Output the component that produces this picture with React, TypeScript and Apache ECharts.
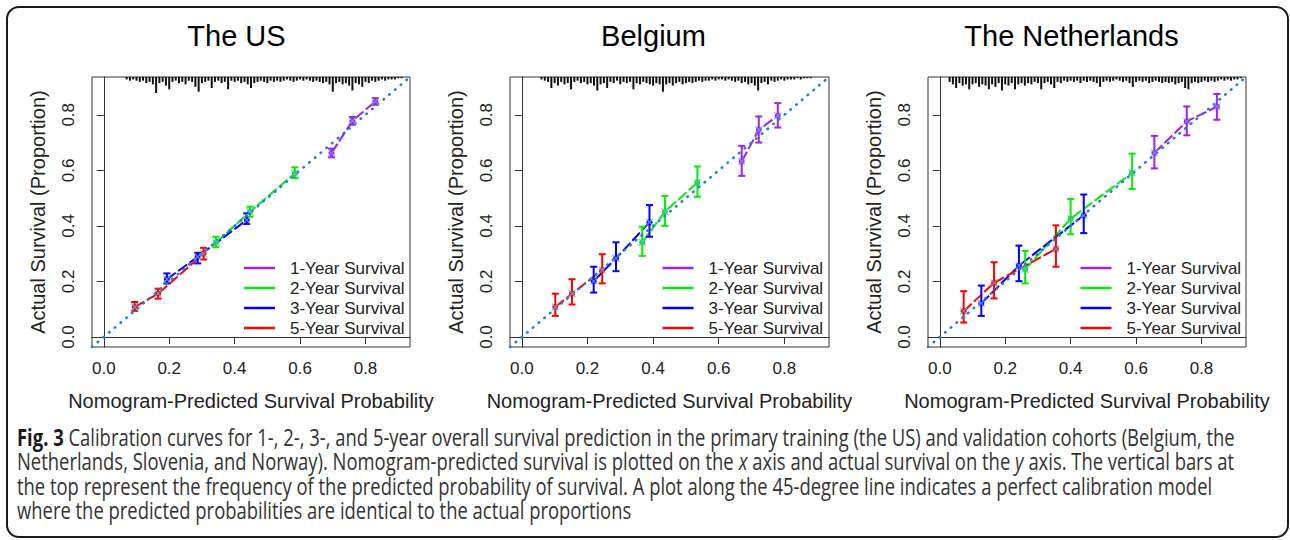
import React, { useEffect, useRef } from "react";
import * as echarts from "echarts";

const panelTitles = ["The US", "Belgium", "The Netherlands"];
const seriesNames = ["1-Year Survival", "2-Year Survival", "3-Year Survival", "5-Year Survival"];
const seriesColors = ["#A020F0", "#00EE00", "#0000FF", "#FF0000"];
const tickValues = [0, 0.2, 0.4, 0.6, 0.8];
const xAxisTitle = "Nomogram-Predicted Survival Probability";
const yAxisTitle = "Actual Survival (Proportion)";

// The US: [1y, 2y, 3y, 5y]
const usPred = [[0.696, 0.76, 0.83], [0.343, 0.447, 0.584], [0.193, 0.287, 0.437], [0.0945, 0.166, 0.305]];
const usObs = [[0.662, 0.778, 0.848], [0.34, 0.451, 0.589], [0.208, 0.289, 0.421], [0.108, 0.156, 0.3]];
const usLo = [[0.647, 0.764, 0.836], [0.323, 0.433, 0.572], [0.193, 0.265, 0.407], [0.094, 0.138, 0.279]];
const usHi = [[0.678, 0.792, 0.86], [0.361, 0.469, 0.611], [0.229, 0.303, 0.445], [0.126, 0.174, 0.321]];

// Belgium
const bePred = [[0.67, 0.722, 0.78], [0.367, 0.436, 0.535], [0.219, 0.287, 0.389], [0.102, 0.153, 0.245]];
const beObs = [[0.632, 0.746, 0.797], [0.341, 0.451, 0.556], [0.201, 0.283, 0.413], [0.108, 0.156, 0.241]];
const beLo = [[0.58, 0.7, 0.754], [0.292, 0.4, 0.505], [0.16, 0.237, 0.361], [0.076, 0.117, 0.193]];
const beHi = [[0.688, 0.794, 0.842], [0.397, 0.508, 0.614], [0.253, 0.341, 0.475], [0.156, 0.208, 0.298]];

// The Netherlands
const nlPred = [[0.656, 0.755, 0.847], [0.261, 0.4, 0.588], [0.127, 0.242, 0.44], [0.073, 0.166, 0.355]];
const nlObs = [[0.663, 0.776, 0.829], [0.244, 0.426, 0.591], [0.121, 0.257, 0.438], [0.093, 0.195, 0.317]];
const nlLo = [[0.607, 0.726, 0.782], [0.193, 0.37, 0.533], [0.076, 0.201, 0.374], [0.052, 0.139, 0.253]];
const nlHi = [[0.724, 0.83, 0.875], [0.31, 0.497, 0.66], [0.185, 0.329, 0.513], [0.165, 0.269, 0.402]];

// Spike histogram (frequency of predicted probability), bins of 0.01
const usRugStart = 0.07;
const usRug = [2, 3, 2, 3, 4, 3, 5, 4, 6, 13, 5, 4, 7, 10, 4, 3, 5, 4, 6, 3, 4, 8, 12, 5, 4, 3, 9, 4, 3, 5, 4, 10, 3, 4, 3, 5, 4, 6, 9, 5, 4, 3, 4, 5, 3, 4, 3, 4, 3, 2, 3, 4, 3, 2, 3, 2, 3, 4, 3, 4, 5, 4, 6, 12, 5, 4, 6, 5, 7, 11, 5, 6, 8, 4, 5, 3, 4, 3, 2, 3, 2, 2, 2, 1, 1];
const beRugStart = 0.06;
const beRug = [2, 3, 4, 9, 5, 7, 4, 6, 5, 10, 4, 3, 5, 4, 6, 5, 7, 11, 6, 5, 9, 4, 5, 3, 6, 4, 5, 4, 10, 5, 6, 4, 5, 6, 7, 5, 6, 12, 6, 5, 7, 5, 4, 6, 5, 4, 5, 4, 3, 4, 3, 3, 2, 3, 2, 2, 3, 2, 3, 4, 3, 5, 4, 6, 5, 7, 11, 5, 4, 6, 3, 4, 3, 2, 3, 2, 2, 2, 1, 2, 1, 1, 1];
const nlRugStart = 0.03;
const nlRug = [4, 6, 9, 5, 7, 6, 10, 6, 5, 8, 6, 7, 10, 6, 8, 5, 11, 6, 7, 5, 10, 6, 5, 7, 5, 6, 4, 5, 10, 5, 4, 6, 9, 4, 5, 3, 4, 3, 4, 3, 5, 3, 4, 3, 4, 5, 8, 4, 3, 4, 3, 2, 3, 4, 3, 5, 8, 4, 3, 4, 3, 5, 4, 3, 4, 5, 4, 5, 4, 6, 5, 4, 9, 10, 5, 4, 5, 4, 3, 4, 3, 4, 3, 2, 3, 2, 3, 2, 2, 1];
const rugBin = 0.01;

const captionLines = [
  "Calibration curves for 1-, 2-, 3-, and 5-year overall survival prediction in the primary training (the US) and validation cohorts (Belgium, the",
  "Netherlands, Slovenia, and Norway). Nomogram-predicted survival is plotted on the {i|x} axis and actual survival on the {i|y} axis. The vertical bars at",
  "the top represent the frequency of the predicted probability of survival. A plot along the 45-degree line indicates a perfect calibration model",
  "where the predicted probabilities are identical to the actual proportions",
];
const captionLabel = "Fig. 3";

const panels = [
  { pred: usPred, obs: usObs, lo: usLo, hi: usHi, rug: usRug, rugStart: usRugStart },
  { pred: bePred, obs: beObs, lo: beLo, hi: beHi, rug: beRug, rugStart: beRugStart },
  { pred: nlPred, obs: nlObs, lo: nlLo, hi: nlHi, rug: nlRug, rugStart: nlRugStart },
];

// layout
const AX_MIN = -0.036;
const AX_MAX = 0.936;
const gridLefts = [92, 510, 928];
const gridWidths = [318, 319, 318];
const GRID_TOP = 77;
const GRID_H = 270;
const titleCenters = [236.5, 653.5, 1071.5];
const legendLefts = [244, 662.5, 1080.5];
const FONT = "'Liberation Sans', Arial, Helvetica, sans-serif";
const CAP_FONT = "'Open Sans', 'Noto Sans', sans-serif";

function measure(text: string, font: string): number {
  const ctx = document.createElement("canvas").getContext("2d");
  if (!ctx) return text.length * 10;
  ctx.font = font;
  return ctx.measureText(text).width;
}

function buildOption() {
  const grid: any[] = [];
  const xAxis: any[] = [];
  const yAxis: any[] = [];
  const series: any[] = [];
  const legend: any[] = [];
  const graphic: any[] = [];

  panels.forEach((p, pi) => {
    grid.push({
      left: gridLefts[pi], top: GRID_TOP, width: gridWidths[pi], height: GRID_H,
      show: true, borderColor: "#333", borderWidth: 1, backgroundColor: "transparent",
    });
    xAxis.push({
      gridIndex: pi, type: "value", min: AX_MIN, max: AX_MAX,
      axisLine: { show: true, lineStyle: { color: "#333", width: 1 } },
      splitLine: { show: false },
      axisTick: { show: true, length: 7, inside: false, customValues: tickValues, lineStyle: { color: "#333" } },
      axisLabel: { customValues: tickValues, formatter: (v: number) => v.toFixed(1), fontSize: 17, color: "#222", margin: 13, fontFamily: FONT },
      name: xAxisTitle, nameLocation: "middle", nameGap: 44,
      nameTextStyle: { fontSize: 20, color: "#222", fontFamily: FONT },
    });
    yAxis.push({
      gridIndex: pi, type: "value", min: AX_MIN, max: AX_MAX,
      axisLine: { show: true, lineStyle: { color: "#333", width: 1 } },
      splitLine: { show: false },
      axisTick: { show: true, length: 7, inside: false, customValues: tickValues, lineStyle: { color: "#333" } },
      axisLabel: { customValues: tickValues, formatter: (v: number) => v.toFixed(1), fontSize: 17, color: "#222", margin: 15, rotate: 90, fontFamily: FONT },
      name: yAxisTitle, nameLocation: "middle", nameGap: 44, nameRotate: 90,
      nameTextStyle: { fontSize: 20, color: "#222", fontFamily: FONT },
    });
    yAxis.push({ gridIndex: pi, type: "value", min: 0, max: 220, inverse: true, show: false });

    const xi = pi;
    const yi = pi * 2;

    // rug spikes
    series.push({
      type: "bar", xAxisIndex: xi, yAxisIndex: yi + 1, silent: true, barWidth: 2, z: 1,
      itemStyle: { color: "#111" },
      data: p.rug.map((c, i) => [+(p.rugStart + i * rugBin).toFixed(3), c]),
    });

    seriesNames.forEach((name, h) => {
      const pts = p.pred[h].map((x, k) => [x, p.obs[h][k]]);
      series.push({
        type: "line", name, xAxisIndex: xi, yAxisIndex: yi, data: pts, z: 3,
        symbol: "circle", symbolSize: 6,
        itemStyle: { color: seriesColors[h] },
        lineStyle: { color: seriesColors[h], width: 2, type: [11, 3] },
      });
      series.push({
        type: "custom", xAxisIndex: xi, yAxisIndex: yi, z: 4, silent: true,
        data: p.pred[h].map((x, k) => [x, p.lo[h][k], p.hi[h][k]]),
        encode: { x: 0, y: [1, 2] },
        renderItem: (params: any, api: any) => {
          const x = api.value(0);
          const top = api.coord([x, api.value(2)]);
          const bot = api.coord([x, api.value(1)]);
          const c = 3.5;
          const st = { stroke: seriesColors[h], lineWidth: 2 };
          return {
            type: "group",
            children: [
              { type: "line", shape: { x1: top[0], y1: top[1], x2: bot[0], y2: bot[1] }, style: st },
              { type: "line", shape: { x1: top[0] - c, y1: top[1], x2: top[0] + c, y2: top[1] }, style: st },
              { type: "line", shape: { x1: bot[0] - c, y1: bot[1], x2: bot[0] + c, y2: bot[1] }, style: st },
            ],
          };
        },
      });
      series.push({
        type: "scatter", xAxisIndex: xi, yAxisIndex: yi, data: pts, z: 6, silent: true,
        symbol: "path://M0,0L10,10M10,0L0,10", symbolSize: 7,
        itemStyle: { color: "none", borderColor: "#6ea8e6", borderWidth: 1.2 },
      });
    });

    // 45-degree reference line
    series.push({
      type: "line", xAxisIndex: xi, yAxisIndex: yi, silent: true, z: 5,
      data: [[AX_MIN, AX_MIN], [AX_MAX, AX_MAX]], symbol: "none",
      lineStyle: { color: "#1f7fd6", width: 2.6, type: [0.5, 7], cap: "round" },
    });

    legend.push({
      data: seriesNames, orient: "vertical", left: legendLefts[pi], top: 258,
      itemWidth: 31, itemHeight: 2.5, itemGap: 0, icon: "rect", padding: 0, selectedMode: false,
      textStyle: { fontSize: 17, lineHeight: 20, color: "#222", fontFamily: FONT, padding: [0, 0, 0, 10] },
    });

    graphic.push({
      type: "text", x: titleCenters[pi], y: 36,
      style: { text: panelTitles[pi], align: "center", verticalAlign: "middle", fontSize: 29, fill: "#000", fontFamily: FONT },
    });
  });

  // caption
  const capSize = 23;
  const w1 =
    measure(captionLabel, `bold ${capSize}px 'Open Sans'`) +
    measure(" " + captionLines[0], `${capSize}px 'Open Sans'`);
  const sx = 1218 / w1;
  const capYs = [437, 461.5, 486, 510.5];
  captionLines.forEach((ln, i) => {
    graphic.push({
      type: "text", x: 17, y: capYs[i], scaleX: sx,
      style: {
        text: i === 0 ? `{b|${captionLabel}} ${ln}` : ln,
        verticalAlign: "middle", fontSize: capSize, fill: "#333", fontFamily: CAP_FONT,
        rich: {
          b: { fontWeight: "bold", fontSize: capSize, fill: "#1a1a1a", fontFamily: CAP_FONT },
          i: { fontStyle: "italic", fontSize: capSize, fill: "#333", fontFamily: CAP_FONT },
        },
      },
    });
  });

  graphic.push({
    type: "rect", shape: { x: 7, y: 7, width: 1281, height: 530, r: 12 },
    style: { fill: "none", stroke: "#1a1a1a", lineWidth: 2 },
  });

  return {
    animation: false,
    backgroundColor: "#fff",
    textStyle: { fontFamily: FONT },
    grid, xAxis, yAxis, series, legend, graphic,
  };
}

export default function App() {
  const ref = useRef<HTMLDivElement>(null);
  useEffect(() => {
    if (!ref.current) return;
    const chart = echarts.init(ref.current, undefined, { renderer: "svg" });
    chart.setOption(buildOption() as any);
    return () => chart.dispose();
  }, []);
  return (
    <div
      ref={ref}
      style={{ position: "fixed", left: 0, top: 0, width: 1290, height: 540, background: "#fff" }}
    />
  );
}
